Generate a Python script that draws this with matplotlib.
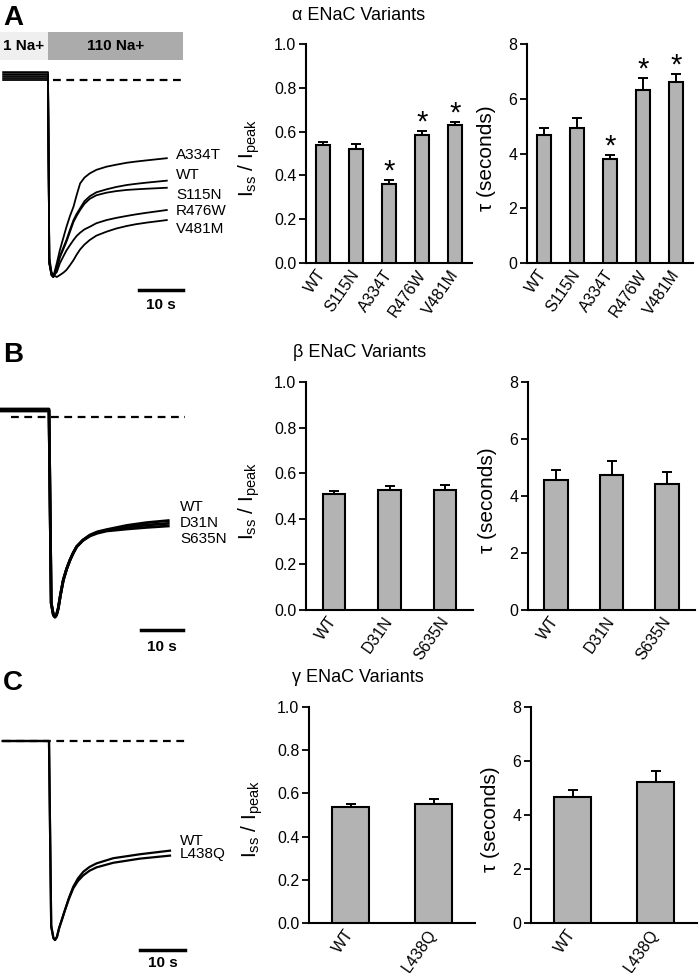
import numpy as np
import matplotlib
matplotlib.use('Agg')
import matplotlib.pyplot as plt
from matplotlib.patches import Rectangle

plt.rcParams['font.family'] = ['Liberation Sans', 'DejaVu Sans']
plt.rcParams['mathtext.fontset'] = 'custom'
plt.rcParams['mathtext.rm'] = 'Liberation Sans'
plt.rcParams['mathtext.it'] = 'Liberation Sans:italic'

W, H = 699, 973

# ---- bar data (mean, upper SEM) ----
alpha_names = ['WT', 'S115N', 'A334T', 'R476W', 'V481M']
alpha_ratio = [0.537, 0.522, 0.361, 0.586, 0.630]
alpha_ratio_err = [0.016, 0.020, 0.016, 0.018, 0.014]
alpha_ratio_sig = [False, False, True, True, True]
alpha_tau = [4.66, 4.93, 3.80, 6.32, 6.60]
alpha_tau_err = [0.27, 0.37, 0.16, 0.45, 0.31]
alpha_tau_sig = [False, False, True, True, True]

beta_names = ['WT', 'D31N', 'S635N']
beta_ratio = [0.508, 0.526, 0.526]
beta_ratio_err = [0.015, 0.020, 0.023]
beta_tau = [4.56, 4.73, 4.41]
beta_tau_err = [0.36, 0.49, 0.43]

gamma_names = ['WT', 'L438Q']
gamma_ratio = [0.537, 0.552]
gamma_ratio_err = [0.015, 0.021]
gamma_tau = [4.67, 5.22]
gamma_tau_err = [0.27, 0.40]

# ---- current traces (time in s, current normalised to peak) ----
trace_a_t = [-10.2, 0, 0.3, 0.8, 1.2, 2.0, 2.7, 3.5, 4.2, 5.0, 5.8, 6.5, 7.3, 8.3, 9.5,
             11.0, 13.3, 15.5, 17.9, 20.0, 22.4, 27.0]
trace_a = {
    'A334T': [0.04, 0.04, -0.93, -0.99, -1.0, -0.93, -0.863, -0.80, -0.745, -0.69, -0.643,
              -0.585, -0.525, -0.495, -0.474, -0.456, -0.44, -0.43, -0.42, -0.414, -0.408, -0.397],
    'WT':    [0.03, 0.03, -0.93, -0.99, -1.0, -0.95, -0.895, -0.85, -0.812, -0.76, -0.711,
              -0.68, -0.651, -0.615, -0.59, -0.57, -0.555, -0.543, -0.533, -0.527, -0.521, -0.511],
    'S115N': [0.02, 0.02, -0.93, -0.99, -1.0, -0.955, -0.9, -0.858, -0.82, -0.77, -0.72,
              -0.69, -0.66, -0.628, -0.603, -0.585, -0.572, -0.564, -0.558, -0.555, -0.552, -0.547],
    'R476W': [0.01, 0.01, -0.92, -0.98, -0.995, -0.975, -0.93, -0.895, -0.865, -0.838, -0.812,
              -0.792, -0.775, -0.758, -0.745, -0.727, -0.711, -0.70, -0.69, -0.682, -0.674, -0.66],
    'V481M': [0.0, 0.0, -0.9, -0.975, -0.99, -1.0, -0.99, -0.978, -0.964, -0.94, -0.914,
              -0.887, -0.86, -0.835, -0.812, -0.79, -0.77, -0.754, -0.741, -0.732, -0.724, -0.711],
}
trace_b_t = [-10.9, 0, 0.5, 1.0, 1.36, 1.7, 2.1, 2.6, 3.25, 4.0, 4.77, 5.5, 6.3, 7.7, 9.3,
             11.0, 13.1, 17.7, 22.2, 27.1]
trace_b = {
    'WT':    [0.04, 0.04, -0.93, -0.99, -1.0, -0.99, -0.957, -0.89, -0.815, -0.76, -0.715,
              -0.68, -0.648, -0.615, -0.59, -0.574, -0.563, -0.542, -0.528, -0.518],
    'D31N':  [0.035, 0.035, -0.93, -0.99, -1.0, -0.99, -0.957, -0.89, -0.815, -0.76, -0.715,
              -0.68, -0.648, -0.616, -0.592, -0.577, -0.566, -0.55, -0.54, -0.532],
    'S635N': [0.03, 0.03, -0.93, -0.99, -1.0, -0.99, -0.957, -0.89, -0.815, -0.76, -0.715,
              -0.68, -0.648, -0.618, -0.595, -0.581, -0.57, -0.56, -0.552, -0.545],
}
trace_c_t = [-10.5, 0, 0.5, 1.0, 1.36, 1.8, 2.3, 2.9, 3.64, 4.5, 5.52, 6.6, 7.8, 9.2, 10.8,
             14.6, 20.7, 27.5]
trace_c = {
    'WT':    [0.0, 0.0, -0.93, -0.99, -1.0, -0.985, -0.94, -0.9, -0.849, -0.79, -0.732,
              -0.69, -0.657, -0.633, -0.615, -0.589, -0.569, -0.551],
    'L438Q': [0.0, 0.0, -0.93, -0.99, -1.0, -0.985, -0.94, -0.9, -0.849, -0.795, -0.74,
              -0.703, -0.675, -0.652, -0.635, -0.612, -0.591, -0.576],
}

BAR_COLOR = '#b3b3b3'

fig = plt.figure(figsize=(W / 100, H / 100), dpi=100)


def px_axes(l, t, r, b):
    return fig.add_axes([l / W, 1 - b / H, (r - l) / W, (b - t) / H])


def trace_axes(box, t0px, pps, y0px, ppu):
    l, t, r, b = box
    ax = px_axes(l, t, r, b)
    ax.set_xlim((l - t0px) / pps, (r - t0px) / pps)
    ax.set_ylim(-(b - y0px) / ppu, -(t - y0px) / ppu)
    ax.axis('off')
    return ax


def bar_axes(box, names, vals, errs, ymax, yticks, fmt, ylabel, sig=None,
             width=0.42, ylabel_fs=15, ylabel_x=-0.27):
    ax = px_axes(*box)
    x = np.arange(len(names))
    ax.bar(x, vals, width=width, color=BAR_COLOR, edgecolor='black',
           linewidth=1.5, zorder=3)
    ax.errorbar(x, vals, yerr=[np.zeros(len(vals)), errs], fmt='none',
                ecolor='black', elinewidth=1.4, capsize=3.5, capthick=1.4,
                zorder=2)
    if sig is not None:
        for xi, v, e, s in zip(x, vals, errs, sig):
            if s:
                ax.annotate('*', (xi, v + e), xytext=(0, -4),
                            textcoords='offset points', ha='center',
                            va='bottom', fontsize=21)
    ax.set_xlim(-0.5, len(names) - 0.5)
    ax.set_ylim(0, ymax)
    ax.set_yticks(yticks)
    ax.set_yticklabels([fmt.format(v) for v in yticks], fontsize=11.5)
    ax.set_xticks(x)
    ax.set_xticklabels(names, rotation=55, ha='right', va='center',
                       rotation_mode='anchor', fontsize=11.5)
    ax.tick_params(axis='x', length=0, pad=6)
    ax.tick_params(axis='y', length=5, width=1.3, pad=2)
    for s in ['top', 'right']:
        ax.spines[s].set_visible(False)
    for s in ['left', 'bottom']:
        ax.spines[s].set_linewidth(1.5)
    ax.set_ylabel(ylabel, fontsize=ylabel_fs)
    ax.yaxis.set_label_coords(ylabel_x, 0.48)
    return ax


ratio_label = r'$\mathregular{I_{ss}}$ / $\mathregular{I_{peak}}$'
tau_label = 'τ (seconds)'
ratio_ticks = [0.0, 0.2, 0.4, 0.6, 0.8, 1.0]
tau_ticks = [0, 2, 4, 6, 8]

# ---- panel letters and titles ----
fig.text(3 / W, 1 - 25 / H, 'A', fontsize=20, fontweight='bold')
fig.text(3 / W, 1 - 362 / H, 'B', fontsize=20, fontweight='bold')
fig.text(3 / W, 1 - 690 / H, 'C', fontsize=20, fontweight='bold')
fig.text(292 / W, 1 - 16 / H, 'α ENaC Variants', fontsize=13, va='center')
fig.text(293 / W, 1 - 353 / H, 'β ENaC Variants', fontsize=13, va='center')
fig.text(292 / W, 1 - 678 / H, 'γ ENaC Variants', fontsize=13, va='center')

# ---- panel A ----
axA = trace_axes((0, 25, 190, 315), 48, 4.4, 80, 197)
axA.add_patch(Rectangle((-10.91, 0.102), 10.91, 0.142, facecolor='#efefef', edgecolor='none'))
axA.add_patch(Rectangle((0, 0.102), 30.7, 0.142, facecolor='#ababab', edgecolor='none'))
axA.text(-5.45, 0.173, '1 Na+', ha='center', va='center', fontsize=11, fontweight='bold')
axA.text(15.3, 0.173, '110 Na+', ha='center', va='center', fontsize=11, fontweight='bold')
axA.plot([1.1, 30.7], [0, 0], color='black', lw=1.6, ls=(0, (3.5, 2.5)))
for name, cur in trace_a.items():
    axA.plot(trace_a_t, cur, color='black', lw=1.3)
label_a_y = {'A334T': -0.381, 'WT': -0.482, 'S115N': -0.584, 'R476W': -0.665, 'V481M': -0.756}
for name, y in label_a_y.items():
    axA.text(29.1, y, name, fontsize=11, va='center', ha='left')
axA.plot([20.7, 30.7], [-1.066, -1.066], color='black', lw=2.5)
axA.text(25.7, -1.142, '10 s', ha='center', va='center', fontsize=11, fontweight='bold')

bar_axes((306, 44, 472, 263), alpha_names, alpha_ratio, alpha_ratio_err, 1.0,
         ratio_ticks, '{:.1f}', ratio_label, sig=alpha_ratio_sig, width=0.42,
         ylabel_x=-0.265)
bar_axes((527, 44, 693, 263), alpha_names, alpha_tau, alpha_tau_err, 8,
         tau_ticks, '{:d}', tau_label, sig=alpha_tau_sig, width=0.42,
         ylabel_x=-0.185)

# ---- panel B ----
axB = trace_axes((0, 395, 190, 660), 49, 4.4, 417, 200)
axB.plot([-8.6, 30.9], [0, 0], color='black', lw=1.6, ls=(0, (3.5, 2.5)))
for name, cur in trace_b.items():
    axB.plot(trace_b_t, cur, color='black', lw=2.0)
label_b_y = {'WT': -0.45, 'D31N': -0.53, 'S635N': -0.61}
for name, y in label_b_y.items():
    axB.text(29.8, y, name, fontsize=11, va='center', ha='left')
axB.plot([20.9, 30.5], [-1.065, -1.065], color='black', lw=2.5)
axB.text(25.7, -1.15, '10 s', ha='center', va='center', fontsize=11, fontweight='bold')

bar_axes((306, 382, 473, 610), beta_names, beta_ratio, beta_ratio_err, 1.0,
         ratio_ticks, '{:.1f}', ratio_label, width=0.4, ylabel_x=-0.265)
bar_axes((528, 382, 695, 610), beta_names, beta_tau, beta_tau_err, 8,
         tau_ticks, '{:d}', tau_label, width=0.42, ylabel_x=-0.185)

# ---- panel C ----
axC = trace_axes((0, 720, 190, 973), 49, 4.4, 741, 199)
axC.plot([-10.5, 30.9], [0, 0], color='black', lw=1.6, ls=(0, (3.5, 2.5)))
for name, cur in trace_c.items():
    axC.plot(trace_c_t, cur, color='black', lw=1.6)
label_c_y = {'WT': -0.503, 'L438Q': -0.568}
for name, y in label_c_y.items():
    axC.text(29.8, y, name, fontsize=11, va='center', ha='left')
axC.plot([20.7, 30.9], [-1.05, -1.05], color='black', lw=2.5)
axC.text(25.8, -1.116, '10 s', ha='center', va='center', fontsize=11, fontweight='bold')

bar_axes((309, 707, 475, 923), gamma_names, gamma_ratio, gamma_ratio_err, 1.0,
         ratio_ticks, '{:.1f}', ratio_label, width=0.44, ylabel_x=-0.265)
bar_axes((531, 707, 697, 923), gamma_names, gamma_tau, gamma_tau_err, 8,
         tau_ticks, '{:d}', tau_label, width=0.44, ylabel_x=-0.185)

fig.savefig('out.png', dpi=100)
